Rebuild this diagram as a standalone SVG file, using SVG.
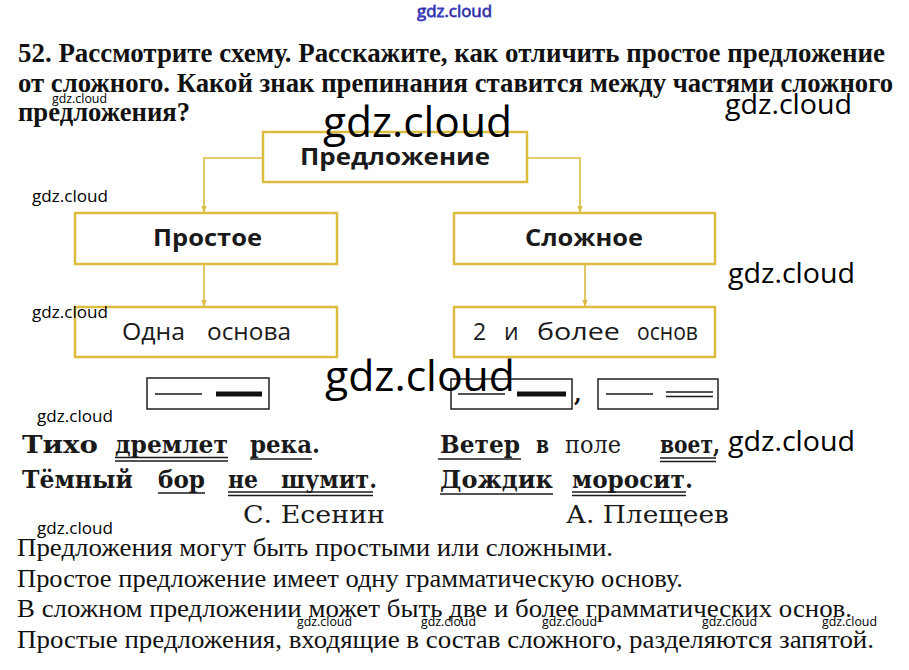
<svg xmlns="http://www.w3.org/2000/svg" width="909" height="670" viewBox="0 0 909 670">
<style>
.title{font-family:"Liberation Serif",serif;font-weight:bold;font-size:28px;fill:#111}
.body{font-family:"Liberation Serif",serif;font-size:25px;fill:#111}
.box{fill:#fff;stroke:#dcbc40;stroke-width:2.5}
.lbl{font-family:"Open Sans","Noto Sans",sans-serif;font-size:24px;fill:#1a1a1a}
.lr{font-family:"Open Sans","Noto Sans",sans-serif;font-size:23px;fill:#1a1a1a}
.b{font-weight:bold}
.conn{fill:none;stroke:#dcbc40;stroke-width:1.6}
.ex{font-family:"DejaVu Serif",serif;font-weight:bold;font-size:25px;fill:#1a1a1a}
.auth{font-family:"DejaVu Serif",serif;font-size:25px;fill:#1a1a1a}
.ul{stroke:#1a1a1a;stroke-width:1.6;fill:none}
.sch{fill:#fff;stroke:#222;stroke-width:1.5}
.wm{font-family:"Open Sans","Noto Sans",sans-serif;fill:#000}
</style>
<defs>
<marker id="arr" viewBox="0 0 10 10" refX="9" refY="5" markerWidth="7" markerHeight="7" orient="auto" markerUnits="userSpaceOnUse">
<path d="M0,1 L10,5 L0,9 Z" fill="#dcbc40"/>
</marker>
</defs>
<rect width="909" height="670" fill="#fff"/>

<g id="title">
<text class="title" x="18" y="62" textLength="867" lengthAdjust="spacingAndGlyphs">52. Рассмотрите схему. Расскажите, как отличить простое предложение</text>
<text class="title" x="18" y="92" textLength="875" lengthAdjust="spacingAndGlyphs">от сложного. Какой знак препинания ставится между частями сложного</text>
<text class="title" x="18" y="121" textLength="172" lengthAdjust="spacingAndGlyphs">предложения?</text>
</g>

<g id="connectors">
<path class="conn" d="M263,158 H204 V212" marker-end="url(#arr)"/>
<path class="conn" d="M527,158 H580 V212" marker-end="url(#arr)"/>
<path class="conn" d="M204,264 V306" marker-end="url(#arr)"/>
<path class="conn" d="M585,264 V306" marker-end="url(#arr)"/>
</g>

<g id="node-predlozhenie">
<rect class="box" x="263" y="132" width="264" height="50"/>
<text class="lbl b" x="300" y="165" textLength="190" lengthAdjust="spacingAndGlyphs">Предложение</text>
</g>
<g id="node-prostoe">
<rect class="box" x="75" y="213" width="262" height="51"/>
<text class="lbl b" x="153" y="246" textLength="109" lengthAdjust="spacingAndGlyphs">Простое</text>
</g>
<g id="node-slozhnoe">
<rect class="box" x="454" y="213" width="261" height="51"/>
<text class="lbl b" x="525" y="246" textLength="118" lengthAdjust="spacingAndGlyphs">Сложное</text>
</g>
<g id="node-odna">
<rect class="box" x="75" y="307" width="262" height="50"/>
<text class="lr" x="122" y="340" textLength="63" lengthAdjust="spacingAndGlyphs">Одна</text>
<text class="lr" x="207" y="340" textLength="84" lengthAdjust="spacingAndGlyphs">основа</text>
</g>
<g id="node-dva">
<rect class="box" x="454" y="307" width="261" height="50"/>
<text class="lr" x="473" y="340">2</text>
<text class="lr" x="504" y="340">и</text>
<text class="lr" x="537" y="340" textLength="83" lengthAdjust="spacingAndGlyphs">более</text>
<text class="lr" x="637" y="340" textLength="61" lengthAdjust="spacingAndGlyphs">основ</text>
</g>

<g id="schemes">
<rect class="sch" x="147" y="378" width="122" height="31"/>
<line class="ul" x1="155" y1="394" x2="202" y2="394"/>
<line x1="216" y1="394" x2="262" y2="394" stroke="#111" stroke-width="5"/>
<rect class="sch" x="451" y="379" width="121" height="30"/>
<line class="ul" x1="458" y1="394" x2="505" y2="394"/>
<line x1="517" y1="394" x2="566" y2="394" stroke="#111" stroke-width="5"/>
<text x="574" y="402" font-family="DejaVu Serif,serif" font-weight="bold" font-size="22" fill="#111">,</text>
<rect class="sch" x="598" y="379" width="120" height="30"/>
<line class="ul" x1="606" y1="394" x2="653" y2="394"/>
<line class="ul" x1="666" y1="392" x2="713" y2="392"/>
<line class="ul" x1="666" y1="396.5" x2="713" y2="396.5"/>
</g>

<g id="example-left">
<text class="ex" x="22" y="453" textLength="76" lengthAdjust="spacingAndGlyphs">Тихо</text>
<text class="ex" x="115" y="453" textLength="113" lengthAdjust="spacingAndGlyphs">дремлет</text>
<text class="ex" x="250" y="453" textLength="70" lengthAdjust="spacingAndGlyphs">река.</text>
<line class="ul" x1="115" y1="457.5" x2="228" y2="457.5"/>
<line class="ul" x1="115" y1="461" x2="228" y2="461"/>
<line class="ul" x1="250" y1="459" x2="312" y2="459"/>
<text class="ex" x="22" y="488" textLength="111" lengthAdjust="spacingAndGlyphs">Тёмный</text>
<text class="ex" x="158" y="488" textLength="47" lengthAdjust="spacingAndGlyphs">бор</text>
<text class="ex" x="228" y="488" textLength="30" lengthAdjust="spacingAndGlyphs">не</text>
<text class="ex" x="281" y="488" textLength="96" lengthAdjust="spacingAndGlyphs">шумит.</text>
<line class="ul" x1="158" y1="493" x2="205" y2="493"/>
<line class="ul" x1="228" y1="492" x2="373" y2="492"/>
<line class="ul" x1="228" y1="495.5" x2="373" y2="495.5"/>
<text class="auth" x="243" y="523" textLength="142" lengthAdjust="spacingAndGlyphs">С. Есенин</text>
</g>

<g id="example-right">
<text class="ex" x="440" y="453" textLength="80" lengthAdjust="spacingAndGlyphs">Ветер</text>
<text class="ex" x="536" y="453" textLength="13" lengthAdjust="spacingAndGlyphs">в</text>
<text class="auth" x="565" y="453" textLength="56" lengthAdjust="spacingAndGlyphs">поле</text>
<text class="ex" x="660" y="453" textLength="60" lengthAdjust="spacingAndGlyphs">воет,</text>
<line class="ul" x1="438" y1="459" x2="521" y2="459"/>
<line class="ul" x1="660" y1="458" x2="716" y2="458"/>
<line class="ul" x1="660" y1="461.5" x2="716" y2="461.5"/>
<text class="ex" x="440" y="488" textLength="113" lengthAdjust="spacingAndGlyphs">Дождик</text>
<text class="ex" x="572" y="488" textLength="121" lengthAdjust="spacingAndGlyphs">моросит.</text>
<line class="ul" x1="440" y1="494" x2="553" y2="494"/>
<line class="ul" x1="572" y1="492" x2="686" y2="492"/>
<line class="ul" x1="572" y1="495.5" x2="686" y2="495.5"/>
<text class="auth" x="566" y="523" textLength="163" lengthAdjust="spacingAndGlyphs">А. Плещеев</text>
</g>

<g id="answer">
<text class="body" x="17" y="556" textLength="596" lengthAdjust="spacingAndGlyphs">Предложения могут быть простыми или сложными.</text>
<text class="body" x="17" y="587" textLength="666" lengthAdjust="spacingAndGlyphs">Простое предложение имеет одну грамматическую основу.</text>
<text class="body" x="17" y="617" textLength="835" lengthAdjust="spacingAndGlyphs">В сложном предложении может быть две и более грамматических основ.</text>
<text class="body" x="17" y="648" textLength="857" lengthAdjust="spacingAndGlyphs">Простые предложения, входящие в состав сложного, разделяются запятой.</text>
</g>

<g id="watermarks">
<text class="wm" x="417" y="17" font-size="17" fill="#fff" stroke="#4a4ad8" stroke-width="0.8" textLength="75" lengthAdjust="spacingAndGlyphs">gdz.cloud</text>
<text class="wm" x="323" y="137" font-size="42" textLength="189" lengthAdjust="spacingAndGlyphs">gdz.cloud</text>
<text class="wm" x="325" y="391" font-size="42" textLength="190" lengthAdjust="spacingAndGlyphs">gdz.cloud</text>
<text class="wm" x="725" y="114" font-size="28" textLength="127" lengthAdjust="spacingAndGlyphs">gdz.cloud</text>
<text class="wm" x="728" y="283" font-size="28" textLength="127" lengthAdjust="spacingAndGlyphs">gdz.cloud</text>
<text class="wm" x="728" y="451" font-size="28" textLength="127" lengthAdjust="spacingAndGlyphs">gdz.cloud</text>
<text class="wm" x="52" y="103" font-size="13" textLength="55" lengthAdjust="spacingAndGlyphs">gdz.cloud</text>
<text class="wm" x="32" y="202" font-size="17" textLength="76" lengthAdjust="spacingAndGlyphs">gdz.cloud</text>
<text class="wm" x="32" y="318" font-size="17" textLength="76" lengthAdjust="spacingAndGlyphs">gdz.cloud</text>
<text class="wm" x="37" y="422" font-size="17" textLength="76" lengthAdjust="spacingAndGlyphs">gdz.cloud</text>
<text class="wm" x="37" y="534" font-size="17" textLength="76" lengthAdjust="spacingAndGlyphs">gdz.cloud</text>
<text class="wm" x="297" y="626" font-size="13" textLength="55" lengthAdjust="spacingAndGlyphs">gdz.cloud</text>
<text class="wm" x="421" y="626" font-size="13" textLength="55" lengthAdjust="spacingAndGlyphs">gdz.cloud</text>
<text class="wm" x="542" y="626" font-size="13" textLength="55" lengthAdjust="spacingAndGlyphs">gdz.cloud</text>
<text class="wm" x="702" y="626" font-size="13" textLength="55" lengthAdjust="spacingAndGlyphs">gdz.cloud</text>
<text class="wm" x="822" y="626" font-size="13" textLength="55" lengthAdjust="spacingAndGlyphs">gdz.cloud</text>
</g>
</svg>
